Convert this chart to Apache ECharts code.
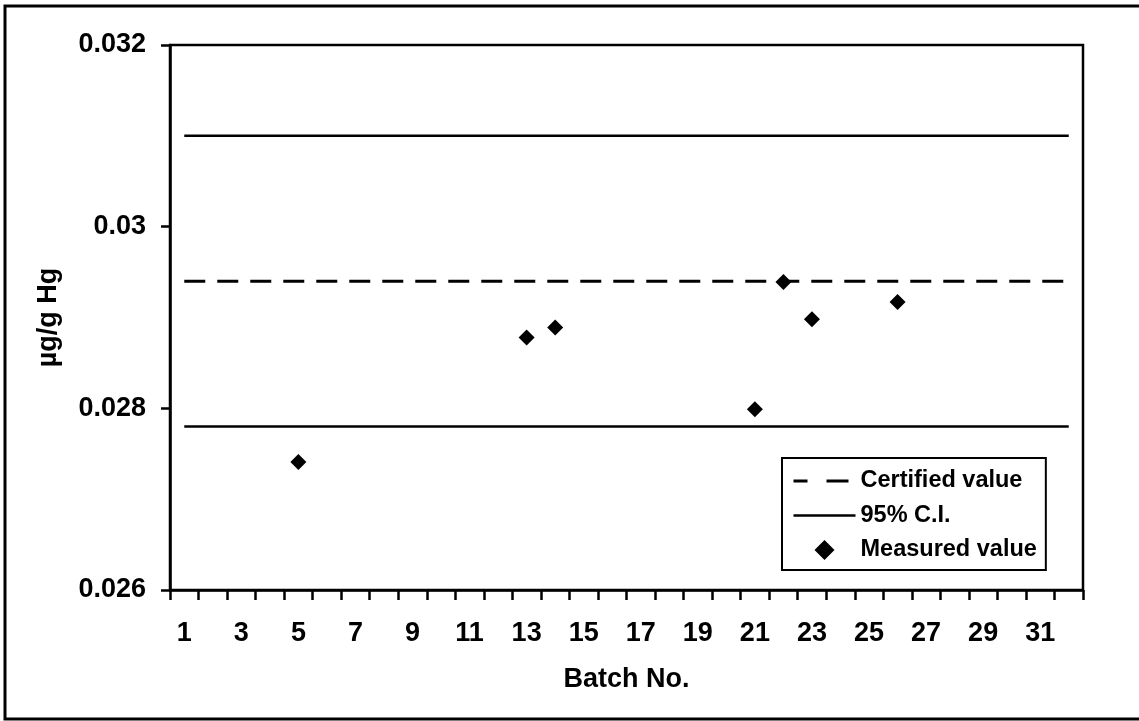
<!DOCTYPE html>
<html>
<head>
<meta charset="utf-8">
<script src="https://cdn.jsdelivr.net/npm/echarts@6/dist/echarts.min.js"></script>
<style>
  html, body { margin: 0; padding: 0; background: #fff; }
  #chart { width: 1139px; height: 721px; }
</style>
</head>
<body>
<div id="chart"></div>
<script>
// Batch numbers on the category axis
const batches = Array.from({ length: 32 }, (_, i) => String(i + 1));
// Reference value and its 95% confidence interval (µg/g Hg)
const certifiedValue = 0.0294;
const ciUpper = 0.0310;
const ciLower = 0.0278;
// Measured results per batch
const measuredBatches = ['5', '13', '14', '21', '22', '23', '26'];
const measuredValues = [0.02741, 0.02878, 0.02889, 0.02799, 0.02939, 0.02898, 0.02917];
// Y-axis scale
const yMin = 0.026, yMax = 0.032, yStep = 0.002;

const FONT = 'Liberation Sans, Arial, sans-serif';
const firstBatch = batches[0];
const lastBatch = batches[batches.length - 1];

const chart = echarts.init(document.getElementById('chart'), null, { renderer: 'canvas' });

chart.setOption({
  backgroundColor: '#ffffff',
  animation: false,
  grid: { left: 170, top: 45, right: 56, bottom: 131, show: true, borderColor: '#000', borderWidth: 2.5, backgroundColor: 'transparent' },
  graphic: [{
    type: 'rect',
    shape: { x: 5, y: 6, width: 1140, height: 713 },
    style: { fill: 'none', stroke: '#000', lineWidth: 3 },
    silent: true, z: -1
  }],
  legend: {
    orient: 'vertical',
    left: 782, top: 458,
    padding: [11, 9, 8, 10],
    itemGap: 10.5,
    itemWidth: 62,
    itemHeight: 20,
    symbolKeepAspect: true,
    borderColor: '#000',
    borderWidth: 2,
    backgroundColor: '#fff',
    textStyle: { fontFamily: FONT, fontWeight: 'bold', fontSize: 23.5, color: '#000' },
    data: [
      { name: 'Certified value', itemStyle: { opacity: 0 }, lineStyle: { type: [14, 19, 22, 30], width: 3 } },
      { name: '95% C.I.', itemStyle: { opacity: 0 }, lineStyle: { width: 2.5 } },
      { name: 'Measured value', icon: 'path://M8,0 L16,8 L8,16 L0,8 Z', itemStyle: { opacity: 1 } }
    ]
  },
  xAxis: {
    type: 'category',
    data: batches,
    boundaryGap: true,
    name: 'Batch No.',
    nameLocation: 'middle',
    nameGap: 76,
    nameTextStyle: { fontFamily: FONT, fontWeight: 'bold', fontSize: 27, color: '#000' },
    axisLine: { lineStyle: { color: '#000', width: 2.5 } },
    axisTick: { show: true, interval: 0, inside: false, length: 10, lineStyle: { color: '#000', width: 2.5 } },
    axisLabel: { interval: 1, margin: 30, fontFamily: FONT, fontWeight: 'bold', fontSize: 27, color: '#000' },
    splitLine: { show: false }
  },
  yAxis: {
    type: 'value',
    min: yMin, max: yMax, interval: yStep,
    name: 'µg/g Hg',
    nameLocation: 'middle',
    nameRotate: 90,
    nameGap: 108,
    nameTextStyle: { fontFamily: FONT, fontWeight: 'bold', fontSize: 27, color: '#000' },
    axisLine: { show: true, lineStyle: { color: '#000', width: 2.5 } },
    axisTick: { show: true, inside: false, length: 9, lineStyle: { color: '#000', width: 2.5 } },
    axisLabel: {
      margin: 24, fontFamily: FONT, fontWeight: 'bold', fontSize: 27, color: '#000',
      formatter: v => String(parseFloat(v.toFixed(3)))
    },
    splitLine: { show: false }
  },
  series: [
    {
      name: 'Certified value',
      type: 'line',
      symbol: 'none',
      data: [[firstBatch, certifiedValue], [lastBatch, certifiedValue]],
      lineStyle: { color: '#000', width: 3, type: [21, 12] },
      itemStyle: { color: '#000' },
      silent: true
    },
    {
      name: '95% C.I.',
      type: 'line',
      symbol: 'none',
      data: [[firstBatch, ciUpper], [lastBatch, ciUpper]],
      lineStyle: { color: '#000', width: 2.5 },
      itemStyle: { color: '#000' },
      silent: true
    },
    {
      name: '95% C.I.',
      type: 'line',
      symbol: 'none',
      data: [[firstBatch, ciLower], [lastBatch, ciLower]],
      lineStyle: { color: '#000', width: 2.5 },
      itemStyle: { color: '#000' },
      silent: true
    },
    {
      name: 'Measured value',
      type: 'scatter',
      symbol: 'diamond',
      symbolSize: 16,
      data: measuredBatches.map((b, i) => [b, measuredValues[i]]),
      itemStyle: { color: '#000', opacity: 1 },
      z: 5
    }
  ]
});
</script>
</body>
</html>
